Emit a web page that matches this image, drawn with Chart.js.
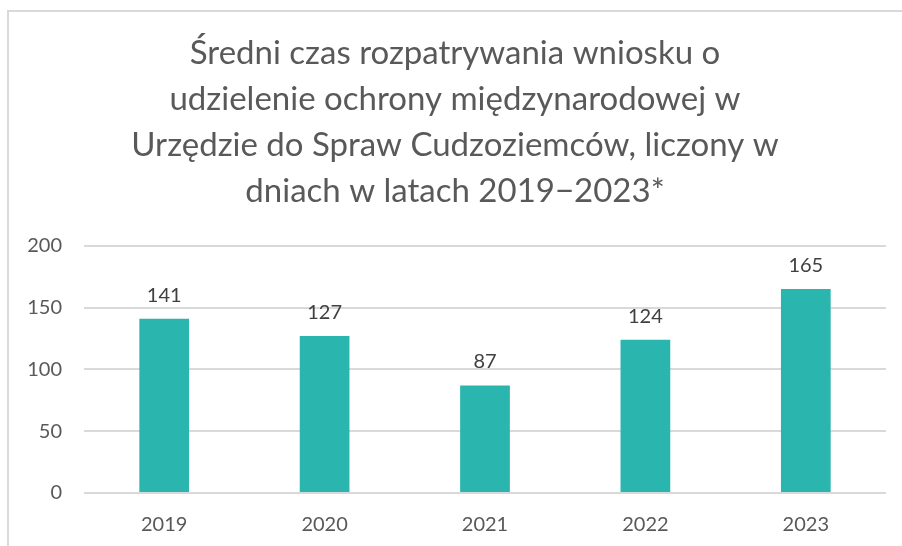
<!DOCTYPE html>
<html>
<head>
<meta charset="utf-8">
<script src="https://cdn.jsdelivr.net/npm/chart.js@4/dist/chart.umd.min.js"></script>
<style>
html,body{margin:0;padding:0;background:#fff;}
#wrap{position:relative;width:902px;height:546px;}
</style>
</head>
<body>
<div id="wrap"><canvas id="c" width="902" height="546"></canvas></div>
<script>
const categories = ["2019", "2020", "2021", "2022", "2023"];
const values = [141, 127, 87, 124, 165];
const titleLines = [
  "Średni czas rozpatrywania wniosku o",
  "udzielenie ochrony międzynarodowej w",
  "Urzędzie do Spraw Cudzoziemców, liczony w",
  "dniach w latach 2019−2023*"
];
const yTicks = [0, 50, 100, 150, 200];

const FONT = "Lato, 'Open Sans', sans-serif";

const frame = {
  id: 'frame',
  beforeDraw(chart) {
    const ctx = chart.ctx;
    ctx.save();
    ctx.fillStyle = '#fff';
    ctx.fillRect(0, 0, chart.width, chart.height);
    ctx.strokeStyle = '#d9d9d9';
    ctx.lineWidth = 2;
    ctx.beginPath();
    ctx.moveTo(8, chart.height);
    ctx.lineTo(8, 11);
    ctx.lineTo(chart.width, 11);
    ctx.stroke();
    ctx.restore();
  }
};

const valueLabels = {
  id: 'valueLabels',
  afterDatasetsDraw(chart) {
    const ctx = chart.ctx;
    ctx.save();
    ctx.font = "20px " + FONT;
    ctx.fillStyle = '#404040';
    ctx.textAlign = 'center';
    ctx.textBaseline = 'alphabetic';
    chart.getDatasetMeta(0).data.forEach((bar, i) => {
      ctx.fillText(String(chart.data.datasets[0].data[i]), bar.x, bar.y - 17);
    });
    ctx.restore();
  }
};

new Chart(document.getElementById('c'), {
  type: 'bar',
  data: {
    labels: categories,
    datasets: [{
      data: values,
      backgroundColor: '#2bb5af',
      categoryPercentage: 1,
      barPercentage: 0.31
    }]
  },
  options: {
    responsive: false,
    animation: false,
    devicePixelRatio: 1,
    layout: { padding: { left: 24, right: 16, top: 0, bottom: 0 } },
    plugins: {
      legend: { display: false },
      tooltip: { enabled: false },
      title: {
        display: true,
        text: titleLines,
        color: '#595959',
        font: { family: FONT, size: 33, weight: 'normal', lineHeight: 45.7/33 },
        padding: { top: 31, bottom: 32 }
      }
    },
    scales: {
      x: {
        grid: { display: false, drawTicks: false },
        border: { display: false },
        ticks: { color: '#595959', font: { family: FONT, size: 20 }, padding: 20 },
        afterFit(scale) { scale.height = 53; }
      },
      y: {
        min: 0, max: 200,
        afterBuildTicks(scale) { scale.ticks = yTicks.map(v => ({ value: v })); },
        grid: { color: '#d9d9d9', lineWidth: 2, drawTicks: false },
        border: { display: false },
        ticks: { color: '#595959', font: { family: FONT, size: 20 }, padding: 22 },
        afterFit(scale) { scale.width = 60; }
      }
    }
  },
  plugins: [frame, valueLabels]
});
</script>
</body>
</html>
